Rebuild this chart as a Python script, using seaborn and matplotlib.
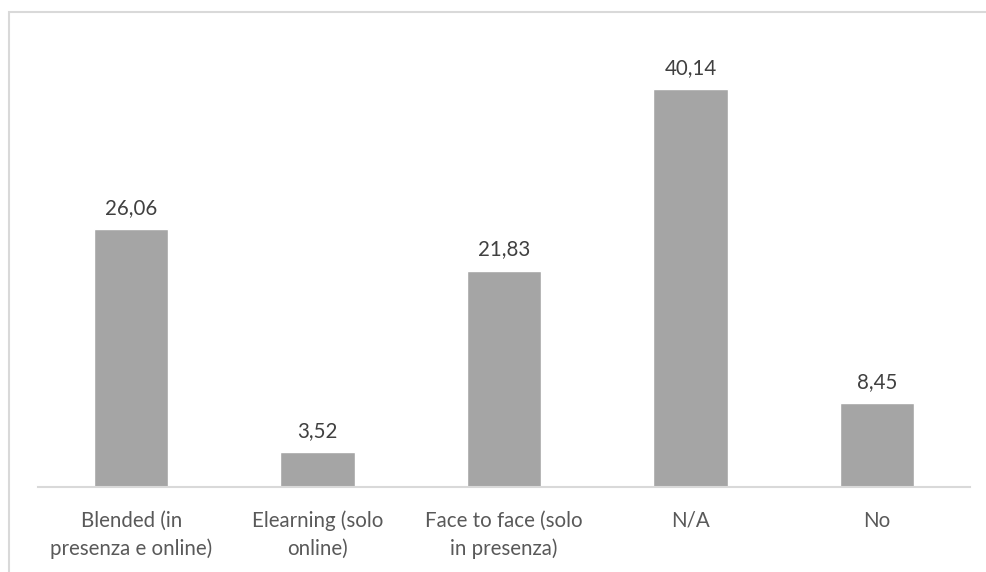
import seaborn as sns
import pandas as pd
import matplotlib.pyplot as plt
from matplotlib.patches import Rectangle

categories = ["Blended (in\npresenza e online)", "Elearning (solo\nonline)",
              "Face to face (solo\nin presenza)", "N/A", "No"]
values = [26.06, 3.52, 21.83, 40.14, 8.45]

df = pd.DataFrame({"cat": categories, "val": values})

sns.set_theme(style="white")
plt.rcParams['font.family'] = ['Lato', 'DejaVu Sans']

fig = plt.figure(figsize=(9.87, 5.72), dpi=100)
ax = fig.add_axes([38/987, 85/572, 932/987, 446/572])

sns.barplot(data=df, x="cat", y="val", color="#A5A5A5", saturation=1,
            width=0.4, ax=ax)

ax.set_ylim(0, 45)
ax.set_xlim(-0.5, 4.5)
ax.set_xlabel("")
ax.set_ylabel("")
ax.set_yticks([])
for s in ["top", "right", "left"]:
    ax.spines[s].set_visible(False)
ax.spines["bottom"].set_color("#D9D9D9")
ax.spines["bottom"].set_linewidth(1.5)
ax.tick_params(axis="x", length=0, pad=17, labelsize=14.8, labelcolor="#595959")
for lbl in ax.get_xticklabels():
    lbl.set_linespacing(1.45)

for i, v in enumerate(values):
    ax.annotate(f"{v:.2f}".replace(".", ","), (i, v), xytext=(0, 8),
                textcoords="offset points", ha="center", va="bottom",
                fontsize=14.8, color="#404040")

# chart border (cropped screenshot: only top/left visible)
fig.patches.append(Rectangle((9/987, -0.1), 1.2, (572 - 12)/572 + 0.1,
                             transform=fig.transFigure, fill=False,
                             edgecolor="#D9D9D9", linewidth=1.5))

fig.savefig("out.png", dpi=100)
